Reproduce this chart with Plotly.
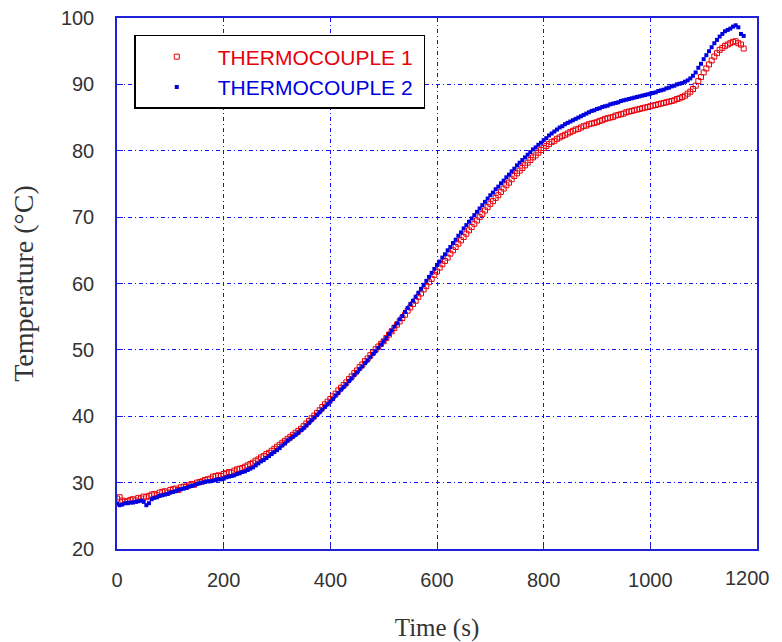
import plotly.graph_objects as go

# Time axis (s), sampled every 5 s
time_s = list(range(0, 1180, 5))

tc1 = [
    27.6, 27.8, 27.3, 27.1, 27.2, 27.4, 27.5, 27.3, 27.7, 27.6,
    27.9, 27.8, 28.0, 28.2, 28.3, 28.1, 28.5, 28.6, 28.7, 28.5,
    28.9, 29.0, 29.1, 28.9, 29.3, 29.4, 29.4, 29.6, 29.8, 29.7,
    30.0, 30.1, 30.2, 30.4, 30.5, 30.6, 30.9, 31.0, 31.1, 31.0,
    31.3, 31.4, 31.6, 31.5, 31.8, 32.0, 32.1, 32.2, 32.4, 32.6,
    32.8, 33.0, 33.3, 33.5, 33.8, 34.0, 34.3, 34.5, 34.8, 35.1,
    35.4, 35.7, 36.0, 36.3, 36.6, 36.9, 37.2, 37.5, 37.8, 38.1,
    38.5, 38.9, 39.3, 39.7, 40.1, 40.5, 40.9, 41.4, 41.8, 42.2,
    42.6, 43.0, 43.4, 43.9, 44.3, 44.7, 45.1, 45.6, 46.0, 46.5,
    46.9, 47.4, 47.8, 48.3, 48.7, 49.2, 49.6, 50.1, 50.5, 50.9,
    51.3, 51.8, 52.3, 52.8, 53.3, 53.8, 54.3, 54.8, 55.3, 55.9,
    56.4, 56.9, 57.4, 58.0, 58.5, 59.1, 59.6, 60.2, 60.7, 61.3,
    61.8, 62.4, 62.9, 63.4, 63.9, 64.5, 65.0, 65.5, 66.0, 66.5,
    67.0, 67.5, 68.0, 68.5, 69.0, 69.5, 70.0, 70.5, 71.0, 71.5,
    72.0, 72.4, 72.9, 73.3, 73.8, 74.3, 74.8, 75.2, 75.7, 76.2,
    76.6, 77.0, 77.4, 77.8, 78.2, 78.6, 79.0, 79.3, 79.7, 80.1,
    80.4, 80.7, 81.0, 81.3, 81.5, 81.8, 82.0, 82.2, 82.4, 82.6,
    82.8, 83.0, 83.2, 83.3, 83.5, 83.7, 83.8, 84.0, 84.1, 84.2,
    84.3, 84.5, 84.6, 84.8, 84.9, 85.0, 85.1, 85.3, 85.4, 85.5,
    85.6, 85.8, 85.9, 86.0, 86.1, 86.2, 86.3, 86.4, 86.5, 86.6,
    86.7, 86.8, 86.9, 87.0, 87.1, 87.2, 87.3, 87.4, 87.5, 87.6,
    87.8, 87.9, 88.1, 88.3, 88.6, 88.9, 89.3, 89.8, 90.5, 91.1,
    91.8, 92.4, 93.0, 93.6, 94.2, 94.7, 95.2, 95.5, 95.8, 96.0,
    96.2, 96.4, 96.5, 96.2, 96.0, 95.4,
]

tc2 = [
    26.8, 26.6, 26.7, 26.9, 26.9, 27.0, 27.0, 27.1, 27.2, 27.3,
    27.1, 26.6, 26.9, 27.5, 27.7, 27.8, 28.0, 28.1, 28.2, 28.3,
    28.5, 28.6, 28.7, 28.9, 29.0, 29.1, 29.2, 29.4, 29.5, 29.6,
    29.8, 29.9, 30.0, 30.1, 30.2, 30.2, 30.3, 30.4, 30.5, 30.5,
    30.6, 30.8, 30.9, 31.0, 31.1, 31.3, 31.4, 31.6, 31.7, 31.9,
    32.1, 32.3, 32.6, 32.9, 33.2, 33.4, 33.7, 34.0, 34.3, 34.6,
    34.9, 35.2, 35.6, 35.9, 36.3, 36.6, 36.9, 37.2, 37.5, 37.9,
    38.2, 38.6, 39.0, 39.4, 39.8, 40.2, 40.6, 41.0, 41.4, 41.8,
    42.2, 42.6, 43.1, 43.5, 44.0, 44.4, 44.8, 45.3, 45.7, 46.2,
    46.6, 47.1, 47.5, 48.0, 48.4, 48.9, 49.4, 49.8, 50.3, 50.8,
    51.3, 51.8, 52.4, 52.9, 53.5, 54.0, 54.6, 55.1, 55.7, 56.3,
    56.9, 57.4, 58.0, 58.6, 59.2, 59.8, 60.4, 61.0, 61.6, 62.2,
    62.8, 63.3, 63.9, 64.4, 65.0, 65.5, 66.1, 66.6, 67.2, 67.7,
    68.3, 68.8, 69.3, 69.8, 70.3, 70.8, 71.3, 71.8, 72.3, 72.8,
    73.3, 73.7, 74.2, 74.6, 75.1, 75.5, 76.0, 76.4, 76.9, 77.3,
    77.8, 78.2, 78.6, 79.0, 79.4, 79.8, 80.2, 80.5, 80.9, 81.2,
    81.6, 81.9, 82.3, 82.6, 82.9, 83.2, 83.5, 83.7, 84.0, 84.2,
    84.4, 84.6, 84.8, 85.0, 85.2, 85.4, 85.6, 85.8, 86.0, 86.1,
    86.3, 86.4, 86.6, 86.7, 86.8, 87.0, 87.1, 87.2, 87.3, 87.5,
    87.6, 87.7, 87.8, 87.9, 88.0, 88.1, 88.2, 88.3, 88.4, 88.5,
    88.6, 88.7, 88.8, 89.0, 89.1, 89.2, 89.4, 89.5, 89.7, 89.8,
    90.0, 90.1, 90.2, 90.4, 90.6, 90.9, 91.3, 91.8, 92.5, 93.1,
    93.8, 94.4, 95.0, 95.6, 96.2, 96.7, 97.2, 97.6, 98.0, 98.2,
    98.4, 98.7, 98.9, 98.6, 97.6, 97.3,
]

# x ticks; the last label is drawn separately so it stays inside the window
x_ticks = [0, 200, 400, 600, 800, 1000, 1200]
x_labels = ["0", "200", "400", "600", "800", "1000", ""]
last_x_label = "1200"

RED = "#e8000b"
BLUE = "#0000e0"
AXIS_BLUE = "#2020d8"
GRID_BLUE = "#1010ff"
TICK_FONT = dict(family="Liberation Sans, Arial", size=20, color="#333333")
TITLE_FAMILY = "Liberation Serif, Times New Roman"

fig = go.Figure()
fig.add_trace(go.Scatter(
    x=time_s, y=tc1, mode="markers",
    name="<span style='color:#e8000b'>THERMOCOUPLE 1</span>&nbsp;",
    marker=dict(symbol="square-open", size=5, color=RED, line=dict(width=1, color=RED)),
))
fig.add_trace(go.Scatter(
    x=time_s, y=tc2, mode="markers",
    name="<span style='color:#0000e0'>THERMOCOUPLE 2</span>&nbsp;",
    marker=dict(symbol="square", size=4, color=BLUE),
))

axis_common = dict(
    showline=True, linecolor=AXIS_BLUE, linewidth=1.5, mirror=True,
    showgrid=True, gridcolor=GRID_BLUE, gridwidth=1, griddash="4px,3px,1px,3px",
    ticks="inside", ticklen=6, tickcolor=AXIS_BLUE,
    zeroline=False, automargin=False, ticklabeloverflow="allow",
    tickfont=TICK_FONT,
)

fig.update_xaxes(
    range=[0, 1200], tickvals=x_ticks, ticktext=x_labels, ticklabelstandoff=12,
    title=dict(text="Time (s)", font=dict(family=TITLE_FAMILY, size=25, color="#333333"), standoff=38),
    **axis_common,
)
fig.update_yaxes(
    range=[20, 100], dtick=10, ticklabelstandoff=17,
    title=dict(text="Temperature (°C)", font=dict(family=TITLE_FAMILY, size=28, color="#333333"), standoff=30),
    **axis_common,
)

fig.add_annotation(
    x=x_ticks[-1], xref="x", y=0, yref="paper",
    text=last_x_label, showarrow=False, font=TICK_FONT,
    xanchor="right", yanchor="middle", xshift=15, yshift=-29,
)

# the page body adds an 8 px offset, so the figure is sized to fit the window
fig.update_layout(
    width=774, height=634,
    margin=dict(l=109, r=25, t=10, b=93),
    paper_bgcolor="white", plot_bgcolor="white",
    legend=dict(
        x=0.027, y=0.968, xanchor="left", yanchor="top",
        bgcolor="white", bordercolor="black", borderwidth=1.5,
        font=dict(family="Liberation Sans, Arial", size=21),
        itemwidth=72, tracegroupgap=0,
    ),
)

fig.write_html("out.html")
